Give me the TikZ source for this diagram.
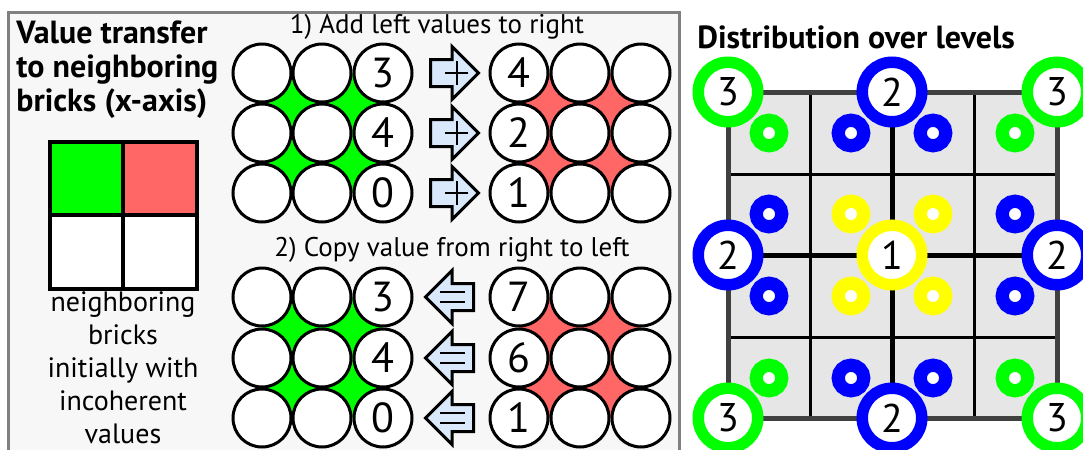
\documentclass[tikz,border=0pt]{standalone}
\usepackage{fontspec}
\setmainfont{PT Sans}
\usetikzlibrary{shapes.arrows}

\definecolor{brickgreen}{HTML}{00FF00}
\definecolor{brickred}{HTML}{FF6666}
\definecolor{lvlblue}{HTML}{0000FF}
\definecolor{lvlyellow}{HTML}{FFFF00}
\definecolor{arrowblue}{HTML}{DAE8FC}
\definecolor{panelgray}{HTML}{F7F7F7}
\definecolor{cellgray}{HTML}{E6E6E6}

\begin{document}
\begin{tikzpicture}[x=0.5pt,y=-0.5pt,
      brick/.style={circle,draw,line width=1.5pt,fill=white,minimum size=29pt,
                    inner sep=0pt,font=\fontsize{21}{21}\selectfont},
      rarrow/.style={single arrow,draw,line width=1.5pt,fill=arrowblue,
                     minimum height=24pt,inner xsep=0pt,inner ysep=6pt,
                     single arrow head extend=6.5pt,anchor=tail},
      larrow/.style={rarrow,shape border rotate=180},
      lvl/.style={circle,draw=#1,line width=5.75pt,fill=white,minimum size=29.75pt,
                  inner sep=0pt,font=\fontsize{20}{20}\selectfont},
      dot/.style={circle,draw=#1,line width=6.6pt,fill=white,minimum size=12.8pt,inner sep=0pt},
      heading/.style={font=\fontsize{16}{17}\selectfont\bfseries,align=left,inner sep=0pt},
      note/.style={font=\fontsize{13.5}{14}\selectfont,inner sep=0pt}
    ]
    \useasboundingbox (0,0) rectangle (1083,450);
    % Left panel
    \draw[line width=1.5pt,gray,fill=panelgray] (8,12) rectangle (679,470);
    \node[heading,anchor=north west] (title) at (16,20)
      {Value transfer\\to neighboring\\bricks (x-axis)};
    % Legend brick
    \fill[brickgreen] (50,142) rectangle (123,215);
    \fill[brickred] (123,142) rectangle (197,215);
    \fill[white] (50,215) rectangle (197,289);
    \draw[line width=2pt] (50,142) rectangle (197,289) (123,142) -- (123,289) (50,215) -- (197,215);
    \node[note,align=center,anchor=north,font=\fontsize{14}{16.5}\selectfont] (legend) at (123,291)
      {neighboring\\bricks\\initially with\\incoherent\\values};

    % Step 1: add left values to right
    \node[note] (step1) at (437,27) {1) Add left values to right};
    \fill[brickgreen] (262,73) rectangle (383,193);
    \fill[brickred] (519,73) rectangle (641,193);
    \foreach \r/\y/\u/\v in {1/73/3/4,2/133/4/2,3/193/0/1} {
      \node[brick] (a\r1) at (262,\y) {};
      \node[brick] (a\r2) at (322,\y) {};
      \node[brick] (a\r3) at (383,\y) {\u};
      \node[brick] (b\r1) at (519,\y) {\v};
      \node[brick] (b\r2) at (580,\y) {};
      \node[brick] (b\r3) at (641,\y) {};
      \node[rarrow] (p\r) at (429,\y) {};
      \draw[line width=1pt] ([xshift=8pt]p\r.tail) -- ++(11.5pt,0)
                            ([xshift=14pt,yshift=6pt]p\r.tail) -- ++(0,-12pt);
    }

    % Step 2: copy value from right to left
    \node[note] (step2) at (452,250) {2) Copy value from right to left};
    \fill[brickgreen] (262,297) rectangle (383,418);
    \fill[brickred] (519,297) rectangle (641,418);
    \foreach \r/\y/\u/\v in {1/297/3/7,2/358/4/6,3/418/0/1} {
      \node[brick] (c\r1) at (262,\y) {};
      \node[brick] (c\r2) at (322,\y) {};
      \node[brick] (c\r3) at (383,\y) {\u};
      \node[brick] (d\r1) at (519,\y) {\v};
      \node[brick] (d\r2) at (580,\y) {};
      \node[brick] (d\r3) at (641,\y) {};
      \node[larrow] (q\r) at (475,\y) {};
      \draw[line width=1pt] ([xshift=-17.5pt,yshift=2.5pt]q\r.tail) -- ++(12.5pt,0)
                            ([xshift=-17.5pt,yshift=-2.5pt]q\r.tail) -- ++(12.5pt,0);
    }

    % Right panel: distribution over levels
    \node[heading,anchor=west] (title2) at (697,37) {Distribution over levels};
    \fill[cellgray] (728,92) rectangle (1057,418);
    \foreach \x in {810,974} \draw[line width=1.5pt] (\x,92) -- (\x,418);
    \foreach \y in {174,337} \draw[line width=1.5pt] (728,\y) -- (1057,\y);
    \draw[line width=2.5pt] (892,92) -- (892,418) (728,255) -- (1057,255);
    \draw[line width=2.5pt,black!75] (728,92) rectangle (1057,418);
    % small rings, one per cell
    \foreach \c [count=\i] in {brickgreen,lvlblue,lvlblue,brickgreen}
      \node[dot=\c] (s1\i) at (687+82*\i,133) {};
    \foreach \c [count=\i] in {lvlblue,lvlyellow,lvlyellow,lvlblue}
      \node[dot=\c] (s2\i) at (687+82*\i,214) {};
    \foreach \c [count=\i] in {lvlblue,lvlyellow,lvlyellow,lvlblue}
      \node[dot=\c] (s3\i) at (687+82*\i,296) {};
    \foreach \c [count=\i] in {brickgreen,lvlblue,lvlblue,brickgreen}
      \node[dot=\c] (s4\i) at (687+82*\i,378) {};
    % level rings
    \node[lvl=brickgreen] (l3a) at (728,92) {3};
    \node[lvl=lvlblue] (l2a) at (892,92) {2};
    \node[lvl=brickgreen] (l3b) at (1057,92) {3};
    \node[lvl=lvlblue] (l2b) at (728,255) {2};
    \node[lvl=lvlyellow] (l1) at (892,255) {1};
    \node[lvl=lvlblue] (l2c) at (1057,255) {2};
    \node[lvl=brickgreen] (l3c) at (728,418) {3};
    \node[lvl=lvlblue] (l2d) at (892,418) {2};
    \node[lvl=brickgreen] (l3d) at (1057,418) {3};
  \end{tikzpicture}
\end{document}
